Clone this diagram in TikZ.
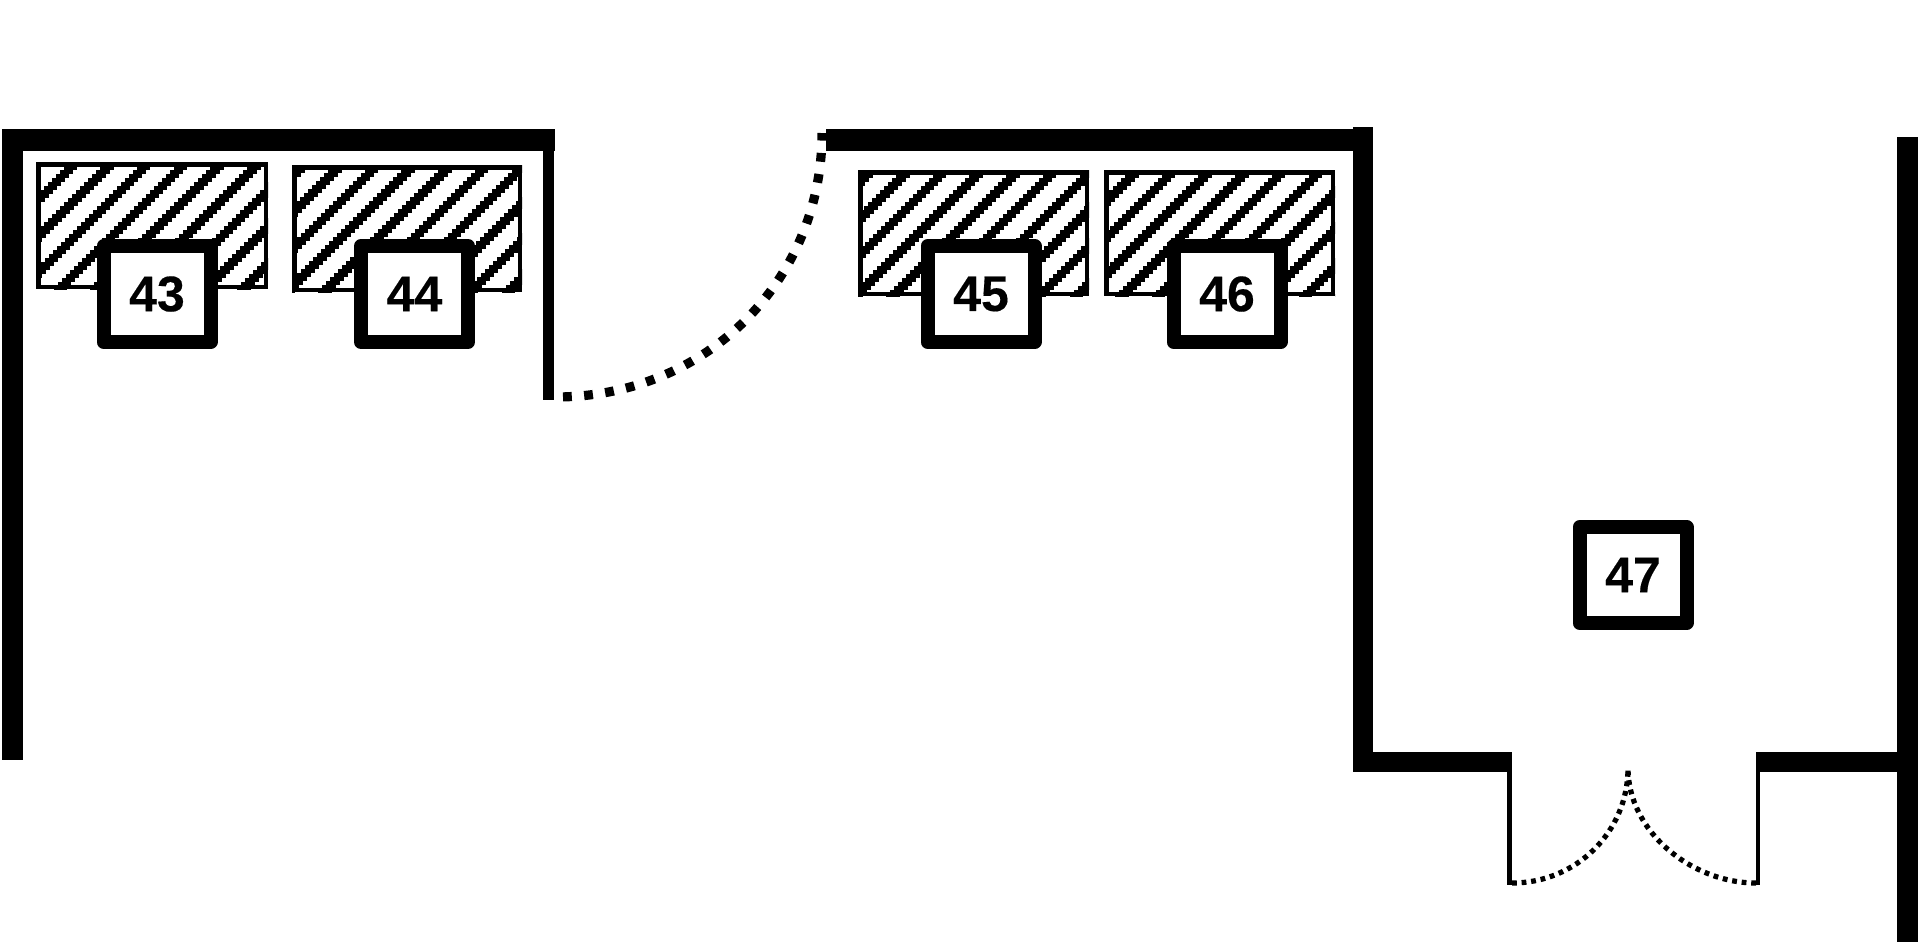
\documentclass[tikz,border=0pt]{standalone}
\usepackage{fontspec}
\setmainfont{Liberation Sans}[BoldFeatures={FakeBold=0.3}]
\tikzset{
  wall/.style={fill=black,draw=none},
  seat/.style={draw=black,fill=white,line width=7pt,line join=round,minimum width=53.5pt,minimum height=48pt,inner sep=0pt,font=\fontsize{25}{25}\bfseries},
  deskborder/.style={draw=black,line width=2.3pt},
  bigdoor/.style={line width=4.6pt,dash pattern=on 4.4pt off 6.2pt,dash phase=6.6pt},
  smalldoor/.style={line width=2.6pt,dash pattern=on 2.4pt off 2.4pt}
}
\newcommand{\deskhatch}[5]{%
  \begin{scope}
    \clip (#1,#2) rectangle (#3,#4);
    \foreach \r in {0,...,33}{
      \foreach \k in {-1,...,10}{
        \fill[black] ({#1+#5+\k*36.7-\r*4},{#2+\r*4}) rectangle ++(13.5,4.2);
      }
    }
  \end{scope}
  \draw[deskborder] (#1+2.2,#2+2.2) rectangle (#3-2.2,#4-2.2);
}
\begin{document}
\begin{tikzpicture}[x=0.5pt,y=-0.5pt]
\useasboundingbox (0,0) rectangle (1925,944);
% walls
\fill[wall] (2,129) rectangle (555,150.5);
\fill[wall] (2,129) rectangle (23,760);
\fill[wall] (543,140) rectangle (554,400);
\fill[wall] (826,129) rectangle (1372,150.5);
\fill[wall] (1353,127) rectangle (1373,772);
\fill[wall] (1354,752) rectangle (1510,772);
\fill[wall] (1507,752) rectangle (1512,885);
\fill[wall] (1757,752) rectangle (1898,772);
\fill[wall] (1756,752) rectangle (1760,885);
\fill[wall] (1897,137) rectangle (1918,942);
% doors
\draw[bigdoor] (555,397) .. controls (708,397) and (822,279) .. (822,133);
\draw[smalldoor] (1512,883) .. controls (1576,883) and (1628,832) .. (1628,768);
\draw[smalldoor] (1756,883) .. controls (1692,883) and (1628,832) .. (1628,768);
% desks
\deskhatch{36.5}{162}{268}{289}{31}
\deskhatch{292}{165}{522}{292}{40}
\deskhatch{858}{170}{1089}{296}{42}
\deskhatch{1104}{170}{1335}{296}{25}
% seats
\node[seat] (s43) at (157,294) {43};
\node[seat] (s44) at (414.5,294) {44};
\node[seat] (s45) at (981,294) {45};
\node[seat] (s46) at (1227,294) {46};
\node[seat] (s47) at (1633,575) {47};
\end{tikzpicture}
\end{document}
